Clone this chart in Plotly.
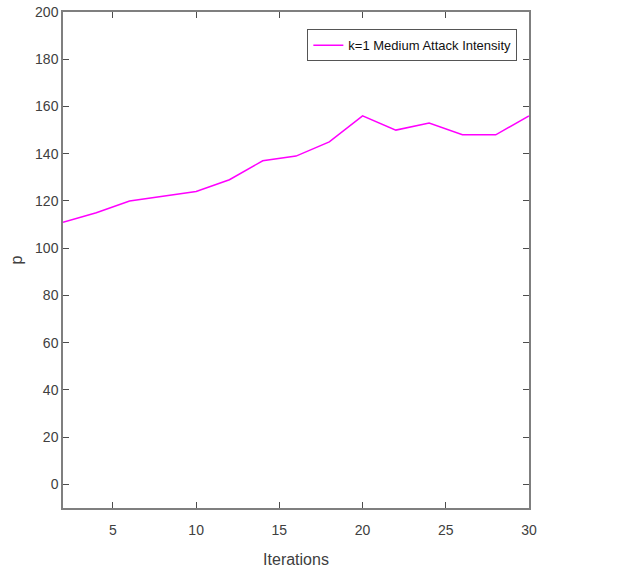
import plotly.graph_objects as go

iterations = [2, 4, 6, 8, 10, 12, 14, 16, 18, 20, 22, 24, 26, 28, 30]
p_values = [111, 115, 120, 122, 124, 129, 137, 139, 145, 156, 150, 153, 148, 148, 156]
x_ticks = [5, 10, 15, 20, 25, 30]
y_ticks = [0, 20, 40, 60, 80, 100, 120, 140, 160, 180, 200]

FONT = "Liberation Sans Narrow, Arial Narrow, Liberation Sans, Arial, sans-serif"

fig = go.Figure()
fig.add_trace(go.Scatter(
    x=iterations, y=p_values, mode="lines",
    line=dict(color="#FF00FF", width=1.5),
    name="k=1 Medium Attack Intensity",
))

axis_common = dict(
    showgrid=False, zeroline=False, showline=True, mirror="ticks",
    linecolor="#7f7f7f", linewidth=1.5, ticks="inside", ticklen=6,
    tickcolor="#4d4d4d", tickfont=dict(family=FONT, size=14, color="#404040"),
    automargin=False,
)

fig.update_layout(
    width=622, height=572,
    margin=dict(l=63, r=93, t=12, b=64),
    paper_bgcolor="white", plot_bgcolor="white",
    showlegend=True,
    legend=dict(
        x=0.975, y=0.965, xanchor="right", yanchor="top",
        bgcolor="white", bordercolor="#555555", borderwidth=1,
        font=dict(family=FONT, size=13, color="#111111"),
    ),
    xaxis=dict(range=[2, 30], tickvals=x_ticks, ticklabelstandoff=8,
               title=dict(text="Iterations", font=dict(family=FONT, size=16, color="#404040"), standoff=17),
               **axis_common),
    yaxis=dict(range=[-10, 200], tickvals=y_ticks,
               title=dict(text="p", font=dict(family=FONT, size=16, color="#404040"), standoff=8),
               **axis_common),
)

fig.write_html("out.html", config={"displayModeBar": False},
               post_script="document.body.style.margin='0';document.body.style.overflow='hidden';")
